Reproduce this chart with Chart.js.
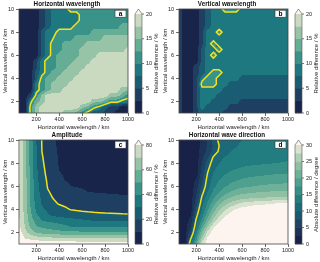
<!DOCTYPE html>
<html>
<head>
<meta charset="utf-8">
<script src="https://cdn.jsdelivr.net/npm/chart.js@4.4.1/dist/chart.umd.min.js"></script>
<style>
  html, body { margin: 0; padding: 0; background: #fff; }
  #wrap { position: relative; width: 320px; height: 262px; }
  #wrap canvas { position: absolute; }
</style>
</head>
<body>
<div id="wrap">
  <canvas id="pa" width="160" height="131" style="left:0;top:0"></canvas>
  <canvas id="pb" width="160" height="131" style="left:160px;top:0"></canvas>
  <canvas id="pc" width="160" height="131" style="left:0;top:131px"></canvas>
  <canvas id="pd" width="160" height="131" style="left:160px;top:131px"></canvas>
</div>
<script>
/* grid nodes: horizontal wavelength (columns) and vertical wavelength (rows, top to bottom) */
const lambdaH = [50,100,150,200,250,300,350,400,450,500,550,600,650,700,750,800,850,900,950,1000];
const lambdaZ = [10,9.5,9,8.5,8,7.5,7,6.5,6,5.5,5,4.5,4,3.5,3,2.5,2,1.5,1];

const xTicks = [200,400,600,800,1000];
const yTicks = [2,4,6,8,10];
const pctTicks = [0,5,10,15,20];
const ampTicks = [0,20,40,60,80];
const degTicks = [0,5,10,15,20,25,30];

/* a: relative difference of horizontal wavelength, % */
const horizWavelengthDiff = [
  [1,1,1,1,4,6,9,9,9,11,11,11,11,11,11,11,11,11,11,11],
  [1,1,1,1,4,6,9,9,9,9,9,11,11,11,11,11,11,11,11,11],
  [1,1,1,1,4,6,9,9,9,9,9,11,11,11,11,11,11,11,11,11],
  [1,1,1,1,4,6,9,9,9,9,11,11,11,11,11,11,11,11,14,14],
  [1,1,1,1,6,9,9,11,11,11,11,11,11,14,14,14,14,14,14,14],
  [1,1,1,1,6,9,10,11,11,11,14,14,14,14,14,16,16,16,16,16],
  [1,1,1,1,6,9,11,11,14,14,14,14,16,16,16,16,16,16,16,16],
  [1,1,1,1,6,9,11,11,14,14,14,16,16,16,16,16,16,16,16,19],
  [1,1,1,1,6,9,11,14,14,14,14,16,16,16,19,19,19,19,19,19],
  [1,1,1,4,9,11,11,14,14,14,16,16,16,19,19,19,19,19,19,19],
  [1,1,1,4,9,11,11,14,14,16,16,16,19,19,19,19,19,19,19,19],
  [1,1,1,6,9,11,14,14,16,16,16,19,19,19,19,19,19,19,19,19],
  [1,1,1,6,11,14,14,16,16,16,19,19,19,19,19,19,19,19,19,19],
  [1,1,1,9,11,14,16,16,16,19,19,19,19,19,19,19,19,19,19,19],
  [1,1,1,9,11,14,16,16,19,19,19,19,19,19,19,19,19,19,16,16],
  [1,1,4,11,16,19,19,19,19,19,19,19,19,19,19,19,16,16,14,11],
  [1,1,9,14,16,19,19,19,19,19,19,19,19,16,16,14,11,11,9,9],
  [1,1,11,16,19,19,19,19,19,19,19,16,14,11,9,6,4,4,1,1],
  [1,1,11,16,19,19,19,19,16,16,14,11,9,6,6,4,4,1,1,1]
];

/* b: relative difference of vertical wavelength, % */
const vertWavelengthDiff = [
  [4,1,1,1,4,6,9,9,11,11,11,9,9,9,9,9,9,9,9,9],
  [4,1,1,1,4,6,9,9,9,9,9,9,9,9,9,9,9,9,9,9],
  [4,1,1,1,4,6,9,9,9,9,9,9,9,9,9,9,9,9,9,9],
  [4,1,1,1,4,6,9,9,9,9,9,9,9,9,9,9,9,9,9,9],
  [4,1,1,1,4,9,9,11,9,9,9,9,9,9,9,9,9,9,9,9],
  [4,1,1,1,4,9,9,9,9,9,9,9,9,9,9,9,9,9,9,9],
  [4,1,1,1,4,9,11,9,9,9,9,9,9,9,9,9,9,9,9,9],
  [4,1,1,1,6,9,9,11,9,9,9,9,9,9,9,9,9,9,9,9],
  [4,1,1,1,6,9,11,9,9,9,9,9,9,9,9,9,9,9,9,9],
  [4,1,1,1,6,9,9,9,9,9,9,9,9,9,9,9,9,9,9,9],
  [4,1,1,4,6,9,9,9,9,9,9,9,9,9,9,9,9,9,9,9],
  [4,1,1,4,6,9,11,11,9,9,9,9,9,9,9,9,9,9,9,9],
  [4,1,1,4,9,11,11,9,9,9,9,6,6,6,6,6,6,6,6,6],
  [4,1,1,4,11,11,11,9,9,6,6,6,6,6,6,6,6,6,6,6],
  [4,1,1,4,9,9,9,9,6,6,6,6,6,6,6,6,6,6,6,6],
  [4,1,1,4,9,9,9,6,6,6,6,6,6,6,6,6,6,6,6,6],
  [4,1,1,4,9,9,6,6,6,6,6,4,4,4,4,4,4,4,4,4],
  [4,1,1,4,9,6,6,6,6,4,4,4,4,4,4,4,4,4,4,4],
  [4,1,1,4,6,6,6,6,4,4,4,4,4,4,4,4,4,4,4,4]
];

/* c: relative difference of amplitude, % */
const amplitudeDiff = [
  [84,63.5,45.4,30,19.6,15.2,10.9,8.5,8,7,6.5,6,6,5.5,5.5,5.5,5,5,5,5],
  [84,64,45.7,30.6,19.7,15.5,11.3,8.7,8,7,6.5,6,6,5.5,5.5,5.5,5,5,5,5],
  [83,64.2,46.1,31.1,20,15.8,11.7,9,8,7.2,6.6,6.2,6,5.8,5.6,5.5,5.4,5.3,5.2,5.1],
  [83,64.6,46.4,31.4,20.8,16.2,12.1,9.3,8.3,7.5,6.9,6.5,6.2,6,5.8,5.7,5.6,5.5,5.4,5.3],
  [83,64.8,46.8,31.6,21.5,16.6,12.6,9.5,8.5,7.8,7.2,6.8,6.5,6.2,6,5.9,5.8,5.7,5.6,5.5],
  [82,65,47.1,32.1,22.4,17.2,13.3,9.7,8.8,8.1,7.5,7.1,6.8,6.5,6.3,6.1,6,5.9,5.8,5.7],
  [82,65.2,47.5,32.6,23.3,17.9,14.3,10.7,9.3,8.6,8,7.6,7.2,6.9,6.6,6.4,6.3,6.2,6.1,6],
  [82,65.6,47.9,33.2,24.5,18.8,15.6,12.5,9.8,9.2,8.7,8.3,7.9,7.6,7.3,7.1,6.9,6.8,6.7,6.6],
  [81,65.6,48.1,33.9,25.6,19.5,17.1,14.8,12.4,10,9.5,9.1,8.8,8.5,8.3,8.1,7.9,7.8,7.7,7.6],
  [81,66,48.2,34.6,26.7,20.6,18.7,17.2,15.7,14.2,12.7,11.2,9.9,9.7,9.5,9.3,9.2,9.1,9,8.9],
  [81,66,48.3,35.4,28,23,19.5,18.5,17.5,16.5,15.5,14.5,13.8,13.2,12.7,12.2,11.8,11.4,11.1,10.8],
  [80,66.4,49.4,36.8,29.4,25.6,21.9,19.2,18,17,16.3,15.7,15.2,14.8,14.4,14,13.7,13.4,13.2,13],
  [80,66.8,50.6,38.6,31.4,28.3,26.1,23.9,21.7,19.6,19,18.5,18,17.6,17.3,17,16.8,16.6,16.4,16.2],
  [80,67.7,52.5,41.1,35.7,31,28.5,27,25.5,24.5,23.8,23.2,22.7,22.3,22,21.7,21.5,21.3,21.1,21],
  [82,68.6,55,46.7,40,38.9,37.8,36.7,35.6,34.4,33.3,32.2,31.1,30,29.8,29.6,29.4,29.3,29.2,29.1],
  [83,70,58.5,50.8,48.5,46.8,45.1,43.4,41.7,40,39.9,39.8,39.8,39.7,39.7,39.6,39.6,39.5,39.5,39.5],
  [85,73.8,65.6,59.5,57,55.5,54.5,53.7,53,52.5,52.1,51.8,51.6,51.4,51.3,51.2,51.1,51,50.9,50.8],
  [90,79.5,77,75,73.5,72.5,72,71.6,71.3,71,70.8,70.6,70.5,70.4,70.3,70.2,70.1,70.1,70,70],
  [95,92,90,89,88.5,88,87.8,87.6,87.4,87.2,87,86.9,86.8,86.7,86.6,86.5,86.4,86.3,86.2,86.1]
];

/* d: absolute difference of horizontal wave direction, degree */
const directionDiff = [
  [1,1,1,1.5,2.8,5.6,8.3,10.6,11.5,12,12.3,12.5,12.6,12.7,12.8,12.9,13,13,13.1,13.2],
  [1,1,1,1.5,3.1,5.4,7.8,10,11.2,12,12.4,12.7,12.9,13,13.1,13.2,13.3,13.4,13.5,13.5],
  [1,1,1,1.5,3.4,5.8,8.1,10.5,11.8,12.5,12.9,13.2,13.4,13.5,13.6,13.7,13.8,13.9,14,14],
  [1,1,1,1.2,4.2,7.2,10.3,11.8,12.6,13,13.3,13.6,13.8,14,14.1,14.2,14.3,14.4,14.5,14.6],
  [1,1,1,1.2,5,8.6,11.2,12.5,13.2,13.7,14,14.3,14.5,14.6,14.7,14.8,14.9,15,15.1,15.2],
  [1,1,1,1.1,5.6,9.5,12,13.3,14,14.6,15,15.3,15.5,15.7,15.8,16,16.1,16.2,16.3,16.4],
  [1,1,1,1.1,6.4,10.3,12.8,14.2,15,15.7,16.2,16.6,16.8,17,17.2,17.3,17.5,17.6,17.7,17.8],
  [1,1,1,3,7.1,11,13.5,15,16,16.8,17.4,17.9,18.2,18.4,18.6,18.8,19,19.1,19.2,19.3],
  [1,1,1,3.6,7.9,11.5,14.3,16,17.2,18.2,18.9,19.4,19.7,20,20.2,20.4,20.5,20.6,20.7,20.8],
  [1,1,1,4.4,9.1,12.5,15.5,17.5,19,20.2,21,21.6,21.9,22.2,22.4,22.6,22.7,22.8,22.9,23],
  [1,1,1,5.3,10.4,14,17,19.5,21.3,22.6,23.5,24.1,24.4,24.7,24.9,25.1,25.3,25.4,25.5,25.6],
  [1,1,1,6.4,11.5,15.5,19,22,24.2,25.8,27,28.2,28.6,29,29.3,29.6,29.9,30.1,30.3,30.5],
  [1,1,1,7.8,12.5,17,21,24.5,27,29,30.3,31,31.5,32,32,32,32,32,32,32],
  [1,1,2.4,9,14,19,23.5,27,29.5,31,32,32,32,32,32,32,32,32,32,32],
  [1,1,3.3,10.6,16,21.5,26,29.5,31.5,32,32,32,32,32,32,32,32,32,32,32],
  [1,1,4.7,12,18.5,25,29.5,31.5,32,32,32,32,32,32,32,32,32,32,32,32],
  [1,1,6.3,14,22,28.5,31.5,32,32,32,32,32,32,32,32,32,32,32,32,32],
  [1,1,9.3,16.5,25,30.5,32,32,32,32,32,32,32,32,32,32,32,32,32,32],
  [1,1,12.5,19,29,31.5,32,32,32,32,32,32,32,32,32,32,32,32,32,32]
];

const FONT = '"Liberation Sans", Arial, sans-serif';
const INK = '#222';
const LINE = '#f5e11b';

/* reversed "tempo"-like colour ramp: navy -> teal -> pale green -> near white */
const RAMP = [
  [0.0, '#151d44'], [0.0625, '#19244b'], [0.1875, '#1f3f62'], [0.3125, '#1a5c72'],
  [0.4375, '#1d787f'], [0.5625, '#3a9388'], [0.6875, '#66ad95'], [0.8125, '#97c4a7'],
  [0.9375, '#c9dac1'], [1.0, '#fdf3ef']
];
const hex = h => [1, 3, 5].map(i => parseInt(h.slice(i, i + 2), 16));
function ramp(t) {
  for (let i = 1; i < RAMP.length; i++) {
    if (t <= RAMP[i][0]) {
      const [t0, c0] = RAMP[i - 1], [t1, c1] = RAMP[i];
      const f = (t - t0) / (t1 - t0), a = hex(c0), b = hex(c1);
      return a.map((v, k) => Math.round(v + (b[k] - v) * f));
    }
  }
  return hex(RAMP[RAMP.length - 1][1]);
}
function levelColors(n) {
  const out = [];
  for (let k = 0; k < n; k++) out.push(ramp((k + 0.5) / n));
  out.push(ramp(1));
  return out;
}
const rgb = c => `rgb(${c[0]},${c[1]},${c[2]})`;

const dX = lambdaH[1] - lambdaH[0], dZ = lambdaZ[0] - lambdaZ[1];
const nC = lambdaH.length, nR = lambdaZ.length;

function sample(grid, x, y) {
  let c = (x - lambdaH[0]) / dX, r = (lambdaZ[0] - y) / dZ;
  c = Math.max(0, Math.min(nC - 1, c)); r = Math.max(0, Math.min(nR - 1, r));
  const c0 = Math.min(Math.floor(c), nC - 2), r0 = Math.min(Math.floor(r), nR - 2);
  const fc = c - c0, fr = r - r0;
  const top = grid[r0][c0] * (1 - fc) + grid[r0][c0 + 1] * fc;
  const bot = grid[r0 + 1][c0] * (1 - fc) + grid[r0 + 1][c0 + 1] * fc;
  return top * (1 - fr) + bot * fr;
}

/* marching squares in index space, returns segments in data units */
function isoline(grid, t) {
  const segs = [];
  const toData = (c, r) => [lambdaH[0] + c * dX, lambdaZ[0] - r * dZ];
  for (let r = 0; r < nR - 1; r++) {
    for (let c = 0; c < nC - 1; c++) {
      const q = [[c, r, grid[r][c]], [c + 1, r, grid[r][c + 1]],
                 [c + 1, r + 1, grid[r + 1][c + 1]], [c, r + 1, grid[r + 1][c]]];
      const pts = [];
      for (let e = 0; e < 4; e++) {
        const a = q[e], b = q[(e + 1) % 4];
        if ((a[2] < t) !== (b[2] < t)) {
          const f = (t - a[2]) / (b[2] - a[2]);
          pts.push(toData(a[0] + (b[0] - a[0]) * f, a[1] + (b[1] - a[1]) * f));
        }
      }
      if (pts.length === 2) segs.push(pts);
      if (pts.length === 4) { segs.push([pts[0], pts[1]]); segs.push([pts[2], pts[3]]); }
    }
  }
  return segs;
}

function contourPlugin(p) {
  const cols = levelColors(p.n);
  return {
    id: 'contour',
    beforeDatasetsDraw(chart) {
      const { ctx, chartArea: a, scales: { x, y } } = chart;
      const w = Math.round(a.right - a.left), h = Math.round(a.bottom - a.top);
      const off = document.createElement('canvas');
      off.width = w; off.height = h;
      const octx = off.getContext('2d');
      const img = octx.createImageData(w, h);
      for (let py = 0; py < h; py++) {
        const yv = y.getValueForPixel(a.top + py + 0.5);
        for (let px = 0; px < w; px++) {
          const xv = x.getValueForPixel(a.left + px + 0.5);
          const k = Math.max(0, Math.min(p.n, Math.floor(sample(p.grid, xv, yv) / p.step)));
          const i = (py * w + px) * 4, c = cols[k];
          img.data[i] = c[0]; img.data[i + 1] = c[1]; img.data[i + 2] = c[2]; img.data[i + 3] = 255;
        }
      }
      octx.putImageData(img, 0, 0);
      ctx.drawImage(off, a.left, a.top, a.right - a.left, a.bottom - a.top);

      ctx.save();
      ctx.beginPath(); ctx.rect(a.left, a.top, a.right - a.left, a.bottom - a.top); ctx.clip();
      ctx.strokeStyle = LINE; ctx.lineWidth = 1.5; ctx.lineCap = 'round';
      ctx.beginPath();
      for (const [s0, s1] of isoline(p.grid, p.line)) {
        ctx.moveTo(x.getPixelForValue(s0[0]), y.getPixelForValue(s0[1]));
        ctx.lineTo(x.getPixelForValue(s1[0]), y.getPixelForValue(s1[1]));
      }
      ctx.stroke();
      ctx.restore();
    },
    afterDraw(chart) {
      const { ctx, chartArea: a, scales: { cb } } = chart;
      ctx.save();
      // frame
      ctx.strokeStyle = '#444'; ctx.lineWidth = 0.8;
      ctx.strokeRect(a.left, a.top, a.right - a.left, a.bottom - a.top);

      // colourbar
      const x0 = a.right + 7, x1 = a.right + 14;
      for (let k = 0; k < p.n; k++) {
        const yt = cb.getPixelForValue((k + 1) * p.step), yb = cb.getPixelForValue(k * p.step);
        ctx.fillStyle = rgb(cols[k]);
        ctx.fillRect(x0, yt - 0.3, x1 - x0, yb - yt + 0.6);
      }
      const ytop = cb.getPixelForValue(p.n * p.step), ytip = cb.getPixelForValue(cb.max);
      const ybot = cb.getPixelForValue(0);
      ctx.fillStyle = rgb(cols[p.n]);
      ctx.beginPath(); ctx.moveTo(x0, ytop); ctx.lineTo((x0 + x1) / 2, ytip); ctx.lineTo(x1, ytop); ctx.closePath(); ctx.fill();
      ctx.strokeStyle = '#555'; ctx.lineWidth = 0.6;
      ctx.beginPath();
      ctx.moveTo(x0, ybot); ctx.lineTo(x0, ytop); ctx.lineTo((x0 + x1) / 2, ytip);
      ctx.lineTo(x1, ytop); ctx.lineTo(x1, ybot); ctx.closePath(); ctx.stroke();
      ctx.strokeStyle = '#444'; ctx.lineWidth = 0.7;
      ctx.beginPath();
      for (const v of p.cbTicks) { const yy = cb.getPixelForValue(v); ctx.moveTo(x1, yy); ctx.lineTo(x1 + 2, yy); }
      ctx.stroke();

      // colourbar label
      ctx.fillStyle = INK; ctx.font = `6px ${FONT}`;
      ctx.textAlign = 'center'; ctx.textBaseline = 'middle';
      ctx.translate(156, (ybot + ytop) / 2);
      ctx.rotate(-Math.PI / 2);
      ctx.fillText(p.cbLabel, 0, 0);
      ctx.restore();

      ctx.save();
      // panel tag
      const bx = a.right - 13, by = a.top + 1.2;
      ctx.fillStyle = '#fff'; ctx.strokeStyle = '#333'; ctx.lineWidth = 0.6;
      ctx.fillRect(bx, by, 11, 7); ctx.strokeRect(bx, by, 11, 7);
      ctx.fillStyle = '#000'; ctx.font = `bold 6.5px ${FONT}`;
      ctx.textAlign = 'center'; ctx.textBaseline = 'middle';
      ctx.fillText(p.tag, bx + 5.5, by + 3.7);
      // title
      ctx.fillStyle = '#111'; ctx.font = `bold 6.3px ${FONT}`;
      ctx.fillText(p.title, 67, 4.5);
      ctx.restore();
    }
  };
}

const setTicks = list => s => { s.ticks = list.map(v => ({ value: v })); };
const tickFont = { family: FONT, size: 5.5 };
const titleFont = { family: FONT, size: 6 };
const tickGrid = { display: true, drawOnChartArea: false, drawTicks: true, tickLength: 3, color: '#444', lineWidth: 0.8 };

const panels = [
  { id: 'pa', tag: 'a', title: 'Horizontal wavelength', grid: horizWavelengthDiff, step: 2.5, n: 8, line: 10,
    cbTicks: pctTicks, cbLabel: 'Relative difference / %' },
  { id: 'pb', tag: 'b', title: 'Vertical wavelength', grid: vertWavelengthDiff, step: 2.5, n: 8, line: 10,
    cbTicks: pctTicks, cbLabel: 'Relative difference / %' },
  { id: 'pc', tag: 'c', title: 'Amplitude', grid: amplitudeDiff, step: 10, n: 8, line: 20,
    cbTicks: ampTicks, cbLabel: 'Relative difference / %' },
  { id: 'pd', tag: 'd', title: 'Horizontal wave direction', grid: directionDiff, step: 2.5, n: 12, line: 10,
    cbTicks: degTicks, cbLabel: 'Absolute difference / degree' }
];

for (const p of panels) {
  const top = p.step * p.n;
  new Chart(document.getElementById(p.id), {
    type: 'scatter',
    data: { datasets: [] },
    options: {
      responsive: false,
      animation: false,
      events: [],
      layout: { autoPadding: false, padding: { top: 9, left: 0, right: 0, bottom: 0 } },
      plugins: { legend: { display: false }, tooltip: { enabled: false } },
      scales: {
        x: {
          type: 'linear', min: 50, max: 1000,
          afterBuildTicks: setTicks(xTicks),
          afterFit: s => { s.height = 18; },
          grid: tickGrid, border: { display: false },
          ticks: { font: tickFont, color: INK, padding: 0, autoSkip: false, maxRotation: 0, callback: v => String(v) },
          title: { display: true, text: 'Horizontal wavelength / km', font: titleFont, color: INK, padding: { top: 0, bottom: 0.4 } }
        },
        y: {
          type: 'linear', min: 1, max: 10,
          afterBuildTicks: setTicks(yTicks),
          afterFit: s => { s.width = 19; },
          grid: tickGrid, border: { display: false },
          ticks: { font: tickFont, color: INK, padding: 2, autoSkip: false, callback: v => String(v) },
          title: { display: true, text: 'Vertical wavelength / km', font: titleFont, color: INK, padding: { top: 1.4, bottom: 0 } }
        },
        cb: {
          type: 'linear', axis: 'y', position: 'right', min: 0, max: top * 104 / 99,
          afterBuildTicks: setTicks(p.cbTicks),
          afterFit: s => { s.width = 32; },
          grid: { display: false, drawTicks: true, tickLength: 18 }, border: { display: false },
          ticks: { font: tickFont, color: INK, padding: 0, autoSkip: false, callback: v => String(v) }
        }
      }
    },
    plugins: [contourPlugin(p)]
  });
}
</script>
</body>
</html>
